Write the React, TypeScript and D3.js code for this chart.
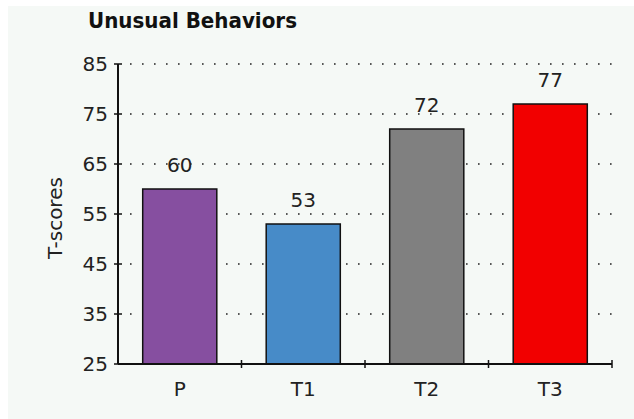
import React, { useEffect } from 'react';
import * as d3 from 'd3';

const categories = ['P', 'T1', 'T2', 'T3'];
const scores = [60, 53, 72, 77];
const barColors = ['#864fa0', '#478bc8', '#808080', '#f20000'];
const yTicks = [25, 35, 45, 55, 65, 75, 85];

const W = 634;
const H = 419;
const FONT = '"DejaVu Sans", Verdana, sans-serif';
const TITLE_FONT = '"DejaVu Sans Condensed", "DejaVu Sans", sans-serif';

export default function App() {
  useEffect(() => {
    document.body.style.margin = '0';
  }, []);

  const margin = { top: 64, right: 22, bottom: 55, left: 118 };
  const y = d3.scaleLinear().domain([25, 85]).range([H - margin.bottom, margin.top]);
  const x = d3
    .scaleBand<string>()
    .domain(categories)
    .range([margin.left, W - margin.right])
    .paddingInner(0.4)
    .paddingOuter(0.2);

  const x0 = margin.left;
  const x1 = W - margin.right;
  const yBase = y(25);
  const step = x.step();
  const bw = x.bandwidth();

  return (
    <svg width={W} height={H} style={{ display: 'block' }} fontFamily={FONT}>
      <rect x={0} y={0} width={W} height={H} fill="#ffffff" />
      <rect x={8} y={6} width={W - 8} height={H - 6} fill="#f5f9f6" />

      {/* title */}
      <text
        x={88}
        y={28}
        fontFamily={TITLE_FONT}
        fontSize={21}
        fontWeight="bold"
        fill="#111"
        textLength={209}
        lengthAdjust="spacingAndGlyphs"
      >
        Unusual Behaviors
      </text>

      {/* dotted gridlines */}
      {yTicks.slice(1).map((t) => (
        <line
          key={'g' + t}
          x1={x0 + 12}
          x2={x1}
          y1={y(t)}
          y2={y(t)}
          stroke="#222"
          strokeWidth={1.6}
          strokeDasharray="1.6,10.4"
        />
      ))}

      {/* bars */}
      {categories.map((c, i) => (
        <rect
          key={'b' + c}
          x={x(c)}
          y={y(scores[i])}
          width={bw}
          height={yBase - y(scores[i])}
          fill={barColors[i]}
          stroke="#111"
          strokeWidth={1.5}
        />
      ))}

      {/* value labels */}
      {categories.map((c, i) => (
        <text
          key={'v' + c}
          x={(x(c) as number) + bw / 2}
          y={y(scores[i]) - 17}
          textAnchor="middle"
          fontSize={20}
          fill="#222"
        >
          {scores[i]}
        </text>
      ))}

      {/* y axis */}
      <line x1={x0} x2={x0} y1={y(85)} y2={yBase} stroke="#111" strokeWidth={2} />
      {yTicks.map((t) => (
        <g key={'t' + t}>
          <line x1={x0 - 4} x2={t === 25 ? x0 : x0 + 4} y1={y(t)} y2={y(t)} stroke="#111" strokeWidth={1.5} />
          <text x={x0 - 10} y={y(t)} dy="0.36em" textAnchor="end" fontSize={20} fill="#222">
            {t}
          </text>
        </g>
      ))}
      <text
        transform={`translate(62, ${(y(25) + y(85)) / 2 + 4}) rotate(-90)`}
        textAnchor="middle"
        fontSize={20}
        fill="#222"
      >
        T-scores
      </text>

      {/* x axis */}
      <line x1={x0} x2={x1} y1={yBase} y2={yBase} stroke="#111" strokeWidth={2} />
      {categories.map((c) => {
        const bx = (x(c) as number) + bw / 2 + step / 2;
        return <line key={'xt' + c} x1={bx} x2={bx} y1={yBase - 4} y2={yBase + 4} stroke="#111" strokeWidth={1.5} />;
      })}
      {categories.map((c) => (
        <text key={'xl' + c} x={(x(c) as number) + bw / 2} y={yBase + 32} textAnchor="middle" fontSize={20} fill="#222">
          {c}
        </text>
      ))}
    </svg>
  );
}
